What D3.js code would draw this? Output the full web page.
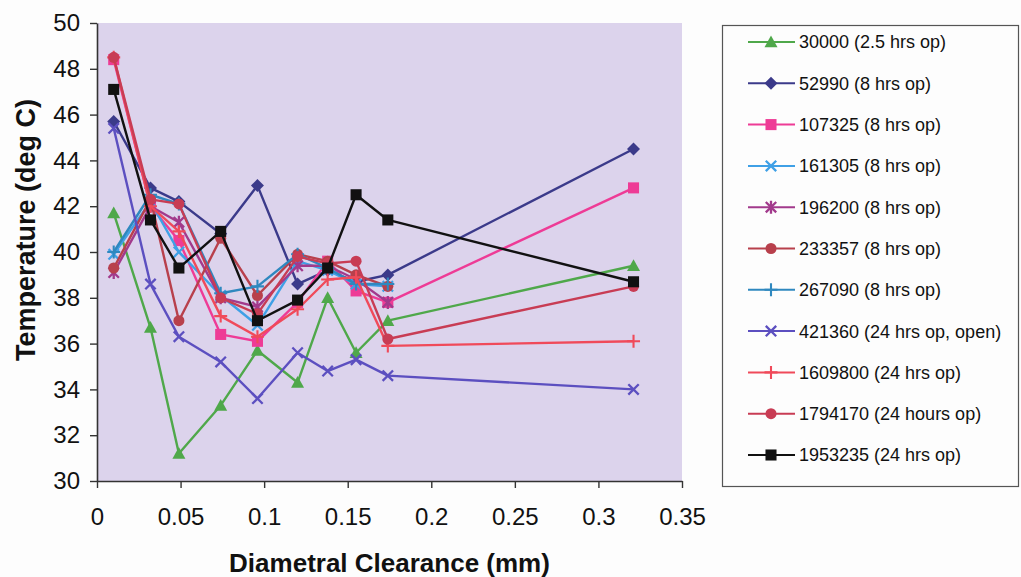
<!DOCTYPE html>
<html>
<head>
<meta charset="utf-8">
<script src="https://cdn.jsdelivr.net/npm/d3@7"></script>
<style>
  body { margin: 0; background: #fdfdfd; }
  text { font-family: "Liberation Sans", Arial, sans-serif; fill: #111; }
</style>
</head>
<body>
<svg id="chart" width="1021" height="577"></svg>
<script>
// Diametral clearance (mm) at each measurement
const clearance = [0.01, 0.032, 0.049, 0.074, 0.096, 0.12, 0.138, 0.155, 0.174, 0.321];

// Temperatures (deg C) per run; 8-hour runs stop at 0.174 mm
const t30000   = [41.7, 36.7, 31.2, 33.3, 35.7, 34.3, 38.0, 35.6, 37.0, 39.4];
const t52990   = [45.7, 42.8, 42.2, 40.8, 42.9, 38.6, 39.2, 38.7, 39.0, 44.5];
const t107325  = [48.4, 42.0, 40.5, 36.4, 36.1, 37.8, 39.6, 38.3, 37.8, 42.8];
const t161305  = [39.9, 42.2, 40.0, 38.1, 36.8, 39.6, 39.2, 38.6, 38.5];
const t196200  = [39.1, 42.0, 41.3, 38.0, 37.6, 39.4, 39.4, 38.8, 37.8];
const t233357  = [39.3, 42.3, 37.0, 40.6, 38.1, 39.9, 39.6, 39.0, 38.5];
const t267090  = [40.0, 42.5, 42.1, 38.2, 38.5, 39.9, 39.3, 38.6, 38.6];
const t421360  = [45.4, 38.6, 36.3, 35.2, 33.6, 35.6, 34.8, 35.3, 34.6, 34.0];
const t1609800 = [48.5, 42.0, 40.9, 37.2, 36.3, 37.5, 38.8, 38.9, 35.9, 36.1];
const t1794170 = [48.5, 42.3, 42.1, 38.0, 37.3, 39.8, 39.5, 39.6, 36.2, 38.5];
const t1953235 = [47.1, 41.4, 39.3, 40.9, 37.0, 37.9, 39.3, 42.5, 41.4, 38.7];

const seriesLabels = [
  "30000 (2.5 hrs op)", "52990 (8 hrs op)", "107325 (8 hrs op)", "161305 (8 hrs op)",
  "196200 (8 hrs op)", "233357 (8 hrs op)", "267090 (8 hrs op)", "421360 (24 hrs op, open)",
  "1609800 (24 hrs op)", "1794170 (24 hours op)", "1953235 (24 hrs op)"
];
const seriesValues = [t30000, t52990, t107325, t161305, t196200, t233357, t267090,
                      t421360, t1609800, t1794170, t1953235];
const seriesColors = ["#4fa84a", "#3b3a8a", "#ee3b96", "#3fa0e6", "#a23a8c", "#b8404c",
                      "#2f88bf", "#5c4fc0", "#f04a5a", "#c83c54", "#111111"];
const seriesMarkers = ["triangle", "diamond", "square", "x", "asterisk", "circle",
                       "plus", "x", "plus", "circle", "square"];

const xTicks = [0, 0.05, 0.1, 0.15, 0.2, 0.25, 0.3, 0.35];
const xTickLabels = ["0", "0.05", "0.1", "0.15", "0.2", "0.25", "0.3", "0.35"];
const yTicks = [30, 32, 34, 36, 38, 40, 42, 44, 46, 48, 50];

const svg = d3.select("#chart");
const x = d3.scaleLinear().domain([0, 0.35]).range([97, 682]);
const y = d3.scaleLinear().domain([30, 50]).range([481, 23]);

// plot area
svg.append("rect")
  .attr("x", x(0)).attr("y", y(50))
  .attr("width", x(0.35) - x(0)).attr("height", y(30) - y(50))
  .attr("fill", "#dcd3ec");

// axes
const xAxis = svg.append("g").attr("transform", `translate(0,${y(30)})`)
  .call(d3.axisBottom(x).tickValues(xTicks).tickFormat((d, i) => xTickLabels[i])
        .tickSize(7).tickPadding(20).tickSizeOuter(0));
const yAxis = svg.append("g").attr("transform", `translate(${x(0)},0)`)
  .call(d3.axisLeft(y).tickValues(yTicks).tickFormat(d3.format("d"))
        .tickSize(7).tickPadding(10).tickSizeOuter(0));
[xAxis, yAxis].forEach(g => {
  g.select(".domain").attr("stroke", "#333").attr("stroke-width", 1.6);
  g.selectAll(".tick line").attr("stroke", "#333").attr("stroke-width", 1.4);
  g.selectAll(".tick text").attr("font-size", 24).attr("fill", "#111")
    .style("font-family", '"Liberation Sans", Arial, sans-serif');
});

// axis titles
svg.append("text")
  .attr("transform", `translate(35,${(y(30) + y(50)) / 2 - 22}) rotate(-90)`)
  .attr("text-anchor", "middle").attr("font-size", 27).attr("font-weight", "bold")
  .text("Temperature (deg C)");
svg.append("text")
  .attr("x", (x(0) + x(0.35)) / 2).attr("y", 572)
  .attr("text-anchor", "middle").attr("font-size", 26).attr("font-weight", "bold")
  .text("Diametral Clearance (mm)");

// marker drawing
function drawMarker(g, type, color, size) {
  const s = size / 2;
  if (type === "triangle") {
    g.append("path").attr("d", `M0,${-s}L${s},${s * 0.8}L${-s},${s * 0.8}Z`).attr("fill", color);
  } else if (type === "diamond") {
    g.append("path").attr("d", `M0,${-s}L${s},0L0,${s}L${-s},0Z`).attr("fill", color);
  } else if (type === "square") {
    const h = s * 0.85;
    g.append("rect").attr("x", -h).attr("y", -h).attr("width", 2 * h).attr("height", 2 * h).attr("fill", color);
  } else if (type === "circle") {
    g.append("circle").attr("r", s * 0.85).attr("fill", color);
  } else if (type === "x") {
    const h = s * 0.8;
    g.append("path").attr("d", `M${-h},${-h}L${h},${h}M${-h},${h}L${h},${-h}`)
      .attr("stroke", color).attr("stroke-width", 2.3).attr("fill", "none");
  } else if (type === "plus") {
    g.append("path").attr("d", `M${-s},0L${s},0M0,${-s}L0,${s}`)
      .attr("stroke", color).attr("stroke-width", 2.1).attr("fill", "none");
  } else if (type === "asterisk") {
    const h = s * 0.8;
    g.append("path").attr("d", `M${-h},${-h}L${h},${h}M${-h},${h}L${h},${-h}M0,${-s}L0,${s}`)
      .attr("stroke", color).attr("stroke-width", 2.3).attr("fill", "none");
  }
}

// series lines and markers
const line = d3.line().x(d => x(d[0])).y(d => y(d[1]));
seriesValues.forEach((vals, i) => {
  const pts = vals.map((v, j) => [clearance[j], v]);
  const g = svg.append("g");
  g.append("path").attr("d", line(pts)).attr("fill", "none")
    .attr("stroke", seriesColors[i]).attr("stroke-width", 2.4).attr("stroke-linejoin", "round");
  pts.forEach(p => {
    const m = g.append("g").attr("transform", `translate(${x(p[0])},${y(p[1])})`);
    drawMarker(m, seriesMarkers[i], seriesColors[i], 13);
  });
});

// legend
const legend = svg.append("g");
legend.append("rect").attr("x", 722.5).attr("y", 25.5).attr("width", 296).attr("height", 461)
  .attr("fill", "#fdfdfd").attr("stroke", "#555").attr("stroke-width", 1.2);
seriesLabels.forEach((name, i) => {
  const cy = 42 + i * 41.3;
  const row = legend.append("g").attr("transform", `translate(0,${cy})`);
  row.append("line").attr("x1", 748).attr("x2", 795).attr("y1", 0).attr("y2", 0)
    .attr("stroke", seriesColors[i]).attr("stroke-width", 2);
  const m = row.append("g").attr("transform", "translate(771,0)");
  drawMarker(m, seriesMarkers[i], seriesColors[i], 13);
  row.append("text").attr("x", 799).attr("y", 0).attr("dy", "0.36em")
    .attr("font-size", 18).text(name);
});
</script>
</body>
</html>
